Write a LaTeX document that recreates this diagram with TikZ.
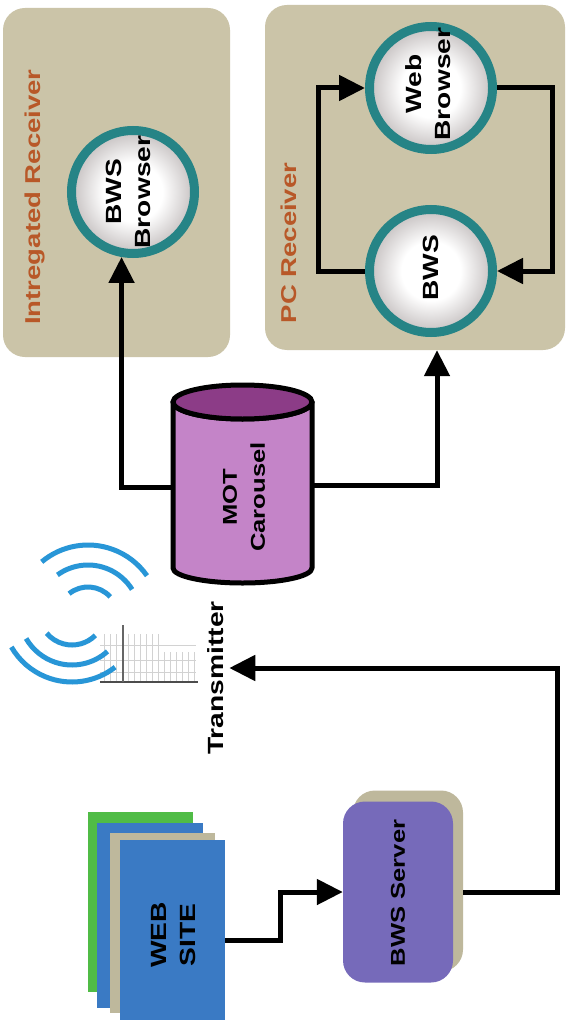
\documentclass[tikz,border=0pt]{standalone}
\usepackage{fontspec}
\setmainfont{Liberation Sans}
\usetikzlibrary{arrows.meta,shadows}

\definecolor{boxtan}{RGB}{203,196,168}
\definecolor{labelorange}{RGB}{184,88,40}
\definecolor{ringteal}{RGB}{38,132,134}
\definecolor{bulbgray}{RGB}{140,130,130}
\definecolor{motbody}{RGB}{196,132,200}
\definecolor{mottop}{RGB}{140,60,135}
\definecolor{serverblue}{RGB}{118,106,186}
\definecolor{shadowtan}{RGB}{190,184,156}
\definecolor{webblue}{RGB}{58,122,196}
\definecolor{webgreen}{RGB}{80,188,70}
\definecolor{wavesblue}{RGB}{40,150,215}

\pgfdeclareradialshading{glass}{\pgfpoint{0bp}{0bp}}{%
  color(0bp)=(white); color(12bp)=(white); color(38bp)=(bulbgray); color(44bp)=(bulbgray!85!white); color(50bp)=(bulbgray!85!white)}

\def\motbody{(173,402) -- (173,568) arc[start angle=180, end angle=0, x radius=69.5, y radius=15] -- (312,402) arc[start angle=0, end angle=180, x radius=69.5, y radius=17] -- cycle}
\def\mottop{(242.5,402) ellipse[x radius=69.5, y radius=17]}

\tikzset{
  receiver/.style={fill=boxtan, rounded corners=22pt, inner sep=0pt},
  bulb/.style={circle, minimum size=123pt, inner sep=0pt, draw=ringteal, line width=9pt, shading=glass},
  txt/.style={rotate=90, xscale=1.28, align=center, inner sep=0pt, font=\fontsize{22}{29}\selectfont\bfseries},
  lbl/.style={txt, text=labelorange, font=\fontsize{21.5}{26}\selectfont\bfseries},
  flow/.style={line width=5pt, -{Triangle[length=26pt,width=25pt]}},
  wave/.style={wavesblue, line width=5pt}
}

\begin{document}
\begin{tikzpicture}[x=1pt, y=-1pt]

\fill[white] (0,0) rectangle (568,1024);
\useasboundingbox (0,0) rectangle (568,1024);

% receivers
\node[receiver, minimum width=227pt, minimum height=349pt] (integrated) at (116.5,182.5) {};
\node[lbl] (integrated-label) at (35,197) {Intregated Receiver};
\node[bulb] (bwsbrowser) at (133,192) {};
\node[txt] (bwsbrowser-text) at (128,192) {BWS\\Browser};

\node[receiver, minimum width=300pt, minimum height=345pt] (pc) at (415,177.5) {};
\node[lbl] (pc-label) at (289,243) {PC Receiver};
\node[bulb] (webbrowser) at (431,88) {};
\node[txt] (webbrowser-text) at (428,84) {Web\\Browser};
\node[bulb] (bws) at (431,271) {};
\node[txt] (bws-text) at (431,268) {BWS};

\draw[flow] (bws.west) -- ++(-47,0) |- (webbrowser.west);
\draw[flow] (webbrowser.east) -- ++(55,0) |- (bws.east);

% carousel
\filldraw[fill=motbody, line width=5pt, line join=round] \motbody;
\filldraw[fill=mottop, line width=5pt] \mottop;
\coordinate (mot-left) at (173,487);
\coordinate (mot-right) at (312,485);
\node[txt, font=\fontsize{20}{28}\selectfont\bfseries] (mot-text) at (244,497) {MOT\\Carousel};

\draw[flow] (mot-left) -| (bwsbrowser.260);
\draw[flow] (mot-right) -| ([xshift=22pt]pc.south);

% transmitter
\draw[wave] (88,617) ++(230:72) arc[start angle=230, end angle=325, radius=72];
\draw[wave] (88,617) ++(234:52) arc[start angle=234, end angle=328, radius=52];
\draw[wave] (88,617) ++(231:30) arc[start angle=231, end angle=318, radius=30];
\begin{scope}[gray!35, line width=0.5pt]
  \foreach \x in {104,110,...,158} \draw (\x,634) -- (\x,681);
  \foreach \x in {164,170,...,194} \draw (\x,652) -- (\x,681);
  \foreach \y in {645,660,672} \draw (100,\y) -- (196,\y);
\end{scope}
\draw[black!70, line width=1.5pt] (100,682) -- (198,682);
\draw[black!60, line width=1.2pt] (123,625) -- (123,682);
\draw[wave] (72,612) ++(45:33) arc[start angle=45, end angle=140, radius=33];
\draw[wave] (72,612) ++(48:53) arc[start angle=48, end angle=150, radius=53];
\draw[wave] (72,612) ++(52:70) arc[start angle=52, end angle=150, radius=70];
\node[txt] (tx) at (216,678) {Transmitter};

% web site
\fill[webgreen] (88,812) rectangle (193,992);
\fill[webblue] (97,823) rectangle (203,1008);
\fill[shadowtan] (110,833) rectangle (215,1013);
\node[fill=webblue, minimum width=105pt, minimum height=180pt, inner sep=0pt] (web) at (172.5,930) {};
\node[txt] (web-text) at (174,935) {WEB\\SITE};

% server
\node[fill=serverblue, rounded corners=22pt, minimum width=110pt, minimum height=181pt, inner sep=0pt,
      drop shadow={shadow xshift=10pt, shadow yshift=11pt, fill=shadowtan, opacity=1}] (server) at (398,892) {};
\node[txt, font=\fontsize{20}{26}\selectfont\bfseries] (server-text) at (398,893) {BWS Server};

\draw[flow] ([yshift=-10pt]web.east) -- ++(55,0) |- (server.west);
\draw[flow] ([xshift=10pt]server.east) -- ++(94,0) |- ([xshift=5pt,yshift=10pt]tx.south);

\end{tikzpicture}
\end{document}
